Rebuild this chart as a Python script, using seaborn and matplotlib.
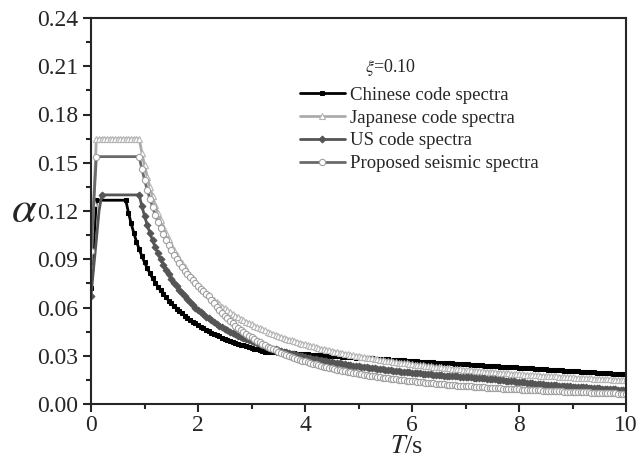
import numpy as np
import matplotlib
matplotlib.use("Agg")
import matplotlib.pyplot as plt
import seaborn as sns

# natural period grid (s), 0.05 s step
periods = np.round(np.arange(0, 10.001, 0.05), 2)

chinese = [0.0720, 0.0994, 0.1267, 0.1267, 0.1267, 0.1267, 0.1267, 0.1267, 0.1267, 0.1267,
           0.1267, 0.1267, 0.1267, 0.1267, 0.1190, 0.1123, 0.1063, 0.1010, 0.0963, 0.0920,
           0.0881, 0.0845, 0.0813, 0.0783, 0.0755, 0.0729, 0.0706, 0.0684, 0.0663, 0.0643,
           0.0625, 0.0608, 0.0592, 0.0577, 0.0563, 0.0549, 0.0536, 0.0524, 0.0512, 0.0501,
           0.0491, 0.0480, 0.0471, 0.0461, 0.0453, 0.0444, 0.0436, 0.0428, 0.0420, 0.0413,
           0.0406, 0.0400, 0.0393, 0.0387, 0.0381, 0.0375, 0.0369, 0.0364, 0.0358, 0.0353,
           0.0348, 0.0343, 0.0339, 0.0334, 0.0330, 0.0325, 0.0324, 0.0323, 0.0322, 0.0321,
           0.0320, 0.0319, 0.0318, 0.0317, 0.0316, 0.0315, 0.0314, 0.0312, 0.0311, 0.0310,
           0.0309, 0.0308, 0.0307, 0.0306, 0.0305, 0.0304, 0.0303, 0.0302, 0.0301, 0.0300,
           0.0299, 0.0298, 0.0297, 0.0296, 0.0295, 0.0294, 0.0293, 0.0292, 0.0291, 0.0289,
           0.0288, 0.0287, 0.0286, 0.0285, 0.0284, 0.0283, 0.0282, 0.0281, 0.0280, 0.0279,
           0.0278, 0.0277, 0.0276, 0.0275, 0.0274, 0.0273, 0.0272, 0.0271, 0.0270, 0.0269,
           0.0268, 0.0266, 0.0265, 0.0264, 0.0263, 0.0262, 0.0261, 0.0260, 0.0259, 0.0258,
           0.0257, 0.0256, 0.0255, 0.0254, 0.0253, 0.0252, 0.0251, 0.0250, 0.0249, 0.0248,
           0.0247, 0.0246, 0.0245, 0.0244, 0.0242, 0.0241, 0.0240, 0.0239, 0.0238, 0.0237,
           0.0236, 0.0235, 0.0234, 0.0233, 0.0232, 0.0231, 0.0230, 0.0229, 0.0228, 0.0227,
           0.0226, 0.0225, 0.0224, 0.0223, 0.0222, 0.0221, 0.0219, 0.0218, 0.0217, 0.0216,
           0.0215, 0.0214, 0.0213, 0.0212, 0.0211, 0.0210, 0.0209, 0.0208, 0.0207, 0.0206,
           0.0205, 0.0204, 0.0203, 0.0202, 0.0201, 0.0200, 0.0199, 0.0198, 0.0196, 0.0195,
           0.0194, 0.0193, 0.0192, 0.0191, 0.0190, 0.0189, 0.0188, 0.0187, 0.0186, 0.0185,
           0.0184]

japanese = [0.085, 0.125, 0.165, 0.165, 0.165, 0.165, 0.165, 0.165, 0.165, 0.165,
            0.165, 0.165, 0.165, 0.165, 0.165, 0.165, 0.165, 0.165, 0.165, 0.1563,
            0.1485, 0.1414, 0.1350, 0.1291, 0.1238, 0.1188, 0.1142, 0.1100, 0.1061, 0.1024,
            0.0990, 0.0958, 0.0928, 0.0900, 0.0874, 0.0849, 0.0825, 0.0803, 0.0782, 0.0762,
            0.0743, 0.0724, 0.0707, 0.0691, 0.0675, 0.0660, 0.0646, 0.0632, 0.0619, 0.0606,
            0.0594, 0.0582, 0.0571, 0.0560, 0.0550, 0.0540, 0.0530, 0.0521, 0.0512, 0.0503,
            0.0495, 0.0487, 0.0479, 0.0471, 0.0464, 0.0457, 0.0450, 0.0443, 0.0437, 0.0430,
            0.0424, 0.0418, 0.0413, 0.0407, 0.0401, 0.0396, 0.0391, 0.0386, 0.0381, 0.0376,
            0.0371, 0.0367, 0.0362, 0.0358, 0.0354, 0.0349, 0.0345, 0.0341, 0.0338, 0.0334,
            0.0330, 0.0326, 0.0323, 0.0319, 0.0316, 0.0313, 0.0309, 0.0306, 0.0303, 0.0300,
            0.0297, 0.0294, 0.0291, 0.0288, 0.0286, 0.0283, 0.0280, 0.0278, 0.0275, 0.0272,
            0.0270, 0.0268, 0.0265, 0.0263, 0.0261, 0.0258, 0.0256, 0.0254, 0.0252, 0.0250,
            0.0248, 0.0245, 0.0243, 0.0241, 0.0240, 0.0238, 0.0236, 0.0234, 0.0232, 0.0230,
            0.0228, 0.0227, 0.0225, 0.0223, 0.0222, 0.0220, 0.0218, 0.0217, 0.0215, 0.0214,
            0.0212, 0.0211, 0.0209, 0.0208, 0.0206, 0.0205, 0.0203, 0.0202, 0.0201, 0.0199,
            0.0198, 0.0197, 0.0195, 0.0194, 0.0193, 0.0192, 0.0190, 0.0189, 0.0188, 0.0187,
            0.0186, 0.0184, 0.0183, 0.0182, 0.0181, 0.0180, 0.0179, 0.0178, 0.0177, 0.0176,
            0.0175, 0.0174, 0.0173, 0.0172, 0.0171, 0.0170, 0.0169, 0.0168, 0.0167, 0.0166,
            0.0165, 0.0164, 0.0163, 0.0162, 0.0161, 0.0161, 0.0160, 0.0159, 0.0158, 0.0157,
            0.0156, 0.0155, 0.0155, 0.0154, 0.0153, 0.0152, 0.0152, 0.0151, 0.0150, 0.0149,
            0.0149]

us = [0.067, 0.085, 0.102, 0.120, 0.130, 0.130, 0.130, 0.130, 0.130, 0.130,
      0.130, 0.130, 0.130, 0.130, 0.130, 0.130, 0.130, 0.130, 0.130, 0.1232,
      0.1170, 0.1114, 0.1064, 0.1017, 0.0975, 0.0936, 0.0900, 0.0867, 0.0836, 0.0807,
      0.0780, 0.0755, 0.0731, 0.0709, 0.0688, 0.0669, 0.0650, 0.0632, 0.0616, 0.0600,
      0.0585, 0.0571, 0.0557, 0.0544, 0.0532, 0.0520, 0.0509, 0.0498, 0.0488, 0.0478,
      0.0468, 0.0459, 0.0450, 0.0442, 0.0433, 0.0425, 0.0418, 0.0411, 0.0403, 0.0397,
      0.0390, 0.0384, 0.0377, 0.0371, 0.0366, 0.0360, 0.0355, 0.0349, 0.0344, 0.0339,
      0.0334, 0.0330, 0.0325, 0.0321, 0.0316, 0.0312, 0.0308, 0.0304, 0.0300, 0.0296,
      0.0293, 0.0289, 0.0285, 0.0282, 0.0279, 0.0275, 0.0272, 0.0269, 0.0266, 0.0263,
      0.0260, 0.0257, 0.0254, 0.0252, 0.0249, 0.0246, 0.0244, 0.0241, 0.0239, 0.0236,
      0.0234, 0.0232, 0.0229, 0.0227, 0.0225, 0.0223, 0.0221, 0.0219, 0.0217, 0.0215,
      0.0213, 0.0211, 0.0209, 0.0207, 0.0205, 0.0203, 0.0202, 0.0200, 0.0198, 0.0197,
      0.0195, 0.0193, 0.0192, 0.0190, 0.0189, 0.0187, 0.0186, 0.0184, 0.0183, 0.0181,
      0.0180, 0.0179, 0.0177, 0.0176, 0.0175, 0.0173, 0.0172, 0.0171, 0.0170, 0.0168,
      0.0167, 0.0166, 0.0165, 0.0164, 0.0163, 0.0161, 0.0160, 0.0159, 0.0158, 0.0157,
      0.0156, 0.0154, 0.0152, 0.0150, 0.0148, 0.0146, 0.0144, 0.0142, 0.0141, 0.0139,
      0.0137, 0.0135, 0.0134, 0.0132, 0.0131, 0.0129, 0.0127, 0.0126, 0.0124, 0.0123,
      0.0121, 0.0120, 0.0119, 0.0117, 0.0116, 0.0115, 0.0113, 0.0112, 0.0111, 0.0110,
      0.0108, 0.0107, 0.0106, 0.0105, 0.0104, 0.0103, 0.0101, 0.0100, 0.0099, 0.0098,
      0.0097, 0.0096, 0.0095, 0.0094, 0.0093, 0.0092, 0.0091, 0.0090, 0.0090, 0.0089,
      0.0088]

proposed = [0.095, 0.124, 0.1538, 0.1538, 0.1538, 0.1538, 0.1538, 0.1538, 0.1538, 0.1538,
            0.1538, 0.1538, 0.1538, 0.1538, 0.1538, 0.1538, 0.1538, 0.1538, 0.1538, 0.1463,
            0.1395, 0.1333, 0.1277, 0.1225, 0.1177, 0.1134, 0.1093, 0.1055, 0.1020, 0.0987,
            0.0957, 0.0928, 0.0901, 0.0876, 0.0852, 0.0829, 0.0808, 0.0787, 0.0768, 0.0750,
            0.0732, 0.0716, 0.0700, 0.0685, 0.0670, 0.0647, 0.0625, 0.0605, 0.0585, 0.0567,
            0.0550, 0.0533, 0.0517, 0.0502, 0.0488, 0.0474, 0.0461, 0.0448, 0.0437, 0.0425,
            0.0414, 0.0404, 0.0394, 0.0384, 0.0375, 0.0366, 0.0357, 0.0349, 0.0341, 0.0334,
            0.0326, 0.0319, 0.0312, 0.0306, 0.0299, 0.0293, 0.0287, 0.0281, 0.0276, 0.0270,
            0.0265, 0.0260, 0.0255, 0.0250, 0.0246, 0.0241, 0.0237, 0.0233, 0.0229, 0.0225,
            0.0221, 0.0217, 0.0214, 0.0210, 0.0207, 0.0203, 0.0200, 0.0197, 0.0194, 0.0191,
            0.0188, 0.0185, 0.0182, 0.0179, 0.0177, 0.0174, 0.0171, 0.0169, 0.0167, 0.0164,
            0.0162, 0.0159, 0.0157, 0.0155, 0.0153, 0.0151, 0.0149, 0.0147, 0.0145, 0.0143,
            0.0142, 0.0140, 0.0138, 0.0136, 0.0134, 0.0132, 0.0131, 0.0129, 0.0128, 0.0126,
            0.0125, 0.0123, 0.0122, 0.0120, 0.0119, 0.0118, 0.0117, 0.0115, 0.0114, 0.0112,
            0.0111, 0.0110, 0.0109, 0.0108, 0.0107, 0.0105, 0.0104, 0.0103, 0.0102, 0.0101,
            0.0100, 0.0099, 0.0098, 0.0097, 0.0096, 0.0095, 0.0094, 0.0093, 0.0092, 0.0091,
            0.0091, 0.0090, 0.0089, 0.0088, 0.0087, 0.0086, 0.0086, 0.0085, 0.0084, 0.0083,
            0.0082, 0.0081, 0.0081, 0.0080, 0.0080, 0.0079, 0.0078, 0.0077, 0.0077, 0.0076,
            0.0076, 0.0075, 0.0074, 0.0073, 0.0073, 0.0072, 0.0072, 0.0071, 0.0071, 0.0070,
            0.0069, 0.0068, 0.0068, 0.0067, 0.0067, 0.0066, 0.0066, 0.0065, 0.0065, 0.0064,
            0.0064]

labels = ["Chinese code spectra", "Japanese code spectra", "US code spectra", "Proposed seismic spectra"]

sns.set_style("ticks")
plt.rcParams["font.family"] = ["Liberation Serif", "DejaVu Serif"]
plt.rcParams["mathtext.fontset"] = "stix"

fig = plt.figure(figsize=(6.42, 4.59), dpi=100)
ax = fig.add_axes([91 / 642, 1 - 404 / 459, 535 / 642, 386 / 459])

n = len(periods)
# plateau segments only carry markers at their ends
sns.lineplot(x=periods, y=chinese, ax=ax, color="black", lw=2, marker="s", markersize=3.2,
             markerfacecolor="black", markeredgecolor="black",
             markevery=[0, 2] + list(range(13, n)), label=labels[0])
sns.lineplot(x=periods, y=japanese, ax=ax, color="#ababab", lw=2, marker="^", markersize=4.3,
             markerfacecolor="white", markeredgecolor="#b5b5b5", markeredgewidth=0.8, label=labels[1])
sns.lineplot(x=periods, y=us, ax=ax, color="#555555", lw=2, marker="D", markersize=3.5,
             markerfacecolor="#555555", markeredgecolor="#555555",
             markevery=[0, 4] + list(range(18, n)), label=labels[2])
sns.lineplot(x=periods, y=proposed, ax=ax, color="#6a6a6a", lw=2, marker="o", markersize=4.5,
             markerfacecolor="white", markeredgecolor="#a0a0a0", markeredgewidth=0.8,
             markevery=[0, 2] + list(range(18, n)), label=labels[3])

ax.set_xlim(0, 10)
ax.set_ylim(0, 0.24)
ax.set_xticks([0, 2, 4, 6, 8, 10])
ax.set_xticks([1, 3, 5, 7, 9], minor=True)
ax.set_yticks(np.round(np.arange(0, 0.241, 0.03), 2))
ax.set_yticks(np.round(np.arange(0.015, 0.24, 0.03), 3), minor=True)
ax.yaxis.set_major_formatter(matplotlib.ticker.FormatStrFormatter("%.2f"))
ax.tick_params(which="major", direction="out", length=6, width=1.5, labelsize=17, pad=3)
ax.tick_params(axis="x", which="major", pad=2)
ax.tick_params(which="minor", direction="out", length=3.5, width=1.5)
for s in ax.spines.values():
    s.set_linewidth(1.5)
    s.set_visible(True)

ax.set_xlabel("$T$/s", fontsize=19, va="bottom")
ax.xaxis.set_label_coords(0.59, -0.139)
ax.set_ylabel(r"$\alpha$", fontsize=32, rotation=0, ha="center", va="center")
ax.yaxis.set_label_coords(-0.125, 0.5)

ax.text(0.512, 0.873, r"$\xi$=0.10", transform=ax.transAxes, fontsize=13, va="center")
leg = ax.legend(loc="upper left", bbox_to_anchor=(0.39, 0.822), frameon=False, fontsize=13.5,
                handlelength=2.4, handletextpad=0.3, labelspacing=0.3, borderaxespad=0, borderpad=0)
# one marker in the middle of each legend line
for h in leg.legend_handles:
    h.set_markevery([1])

fig.savefig("out.png", dpi=100)
